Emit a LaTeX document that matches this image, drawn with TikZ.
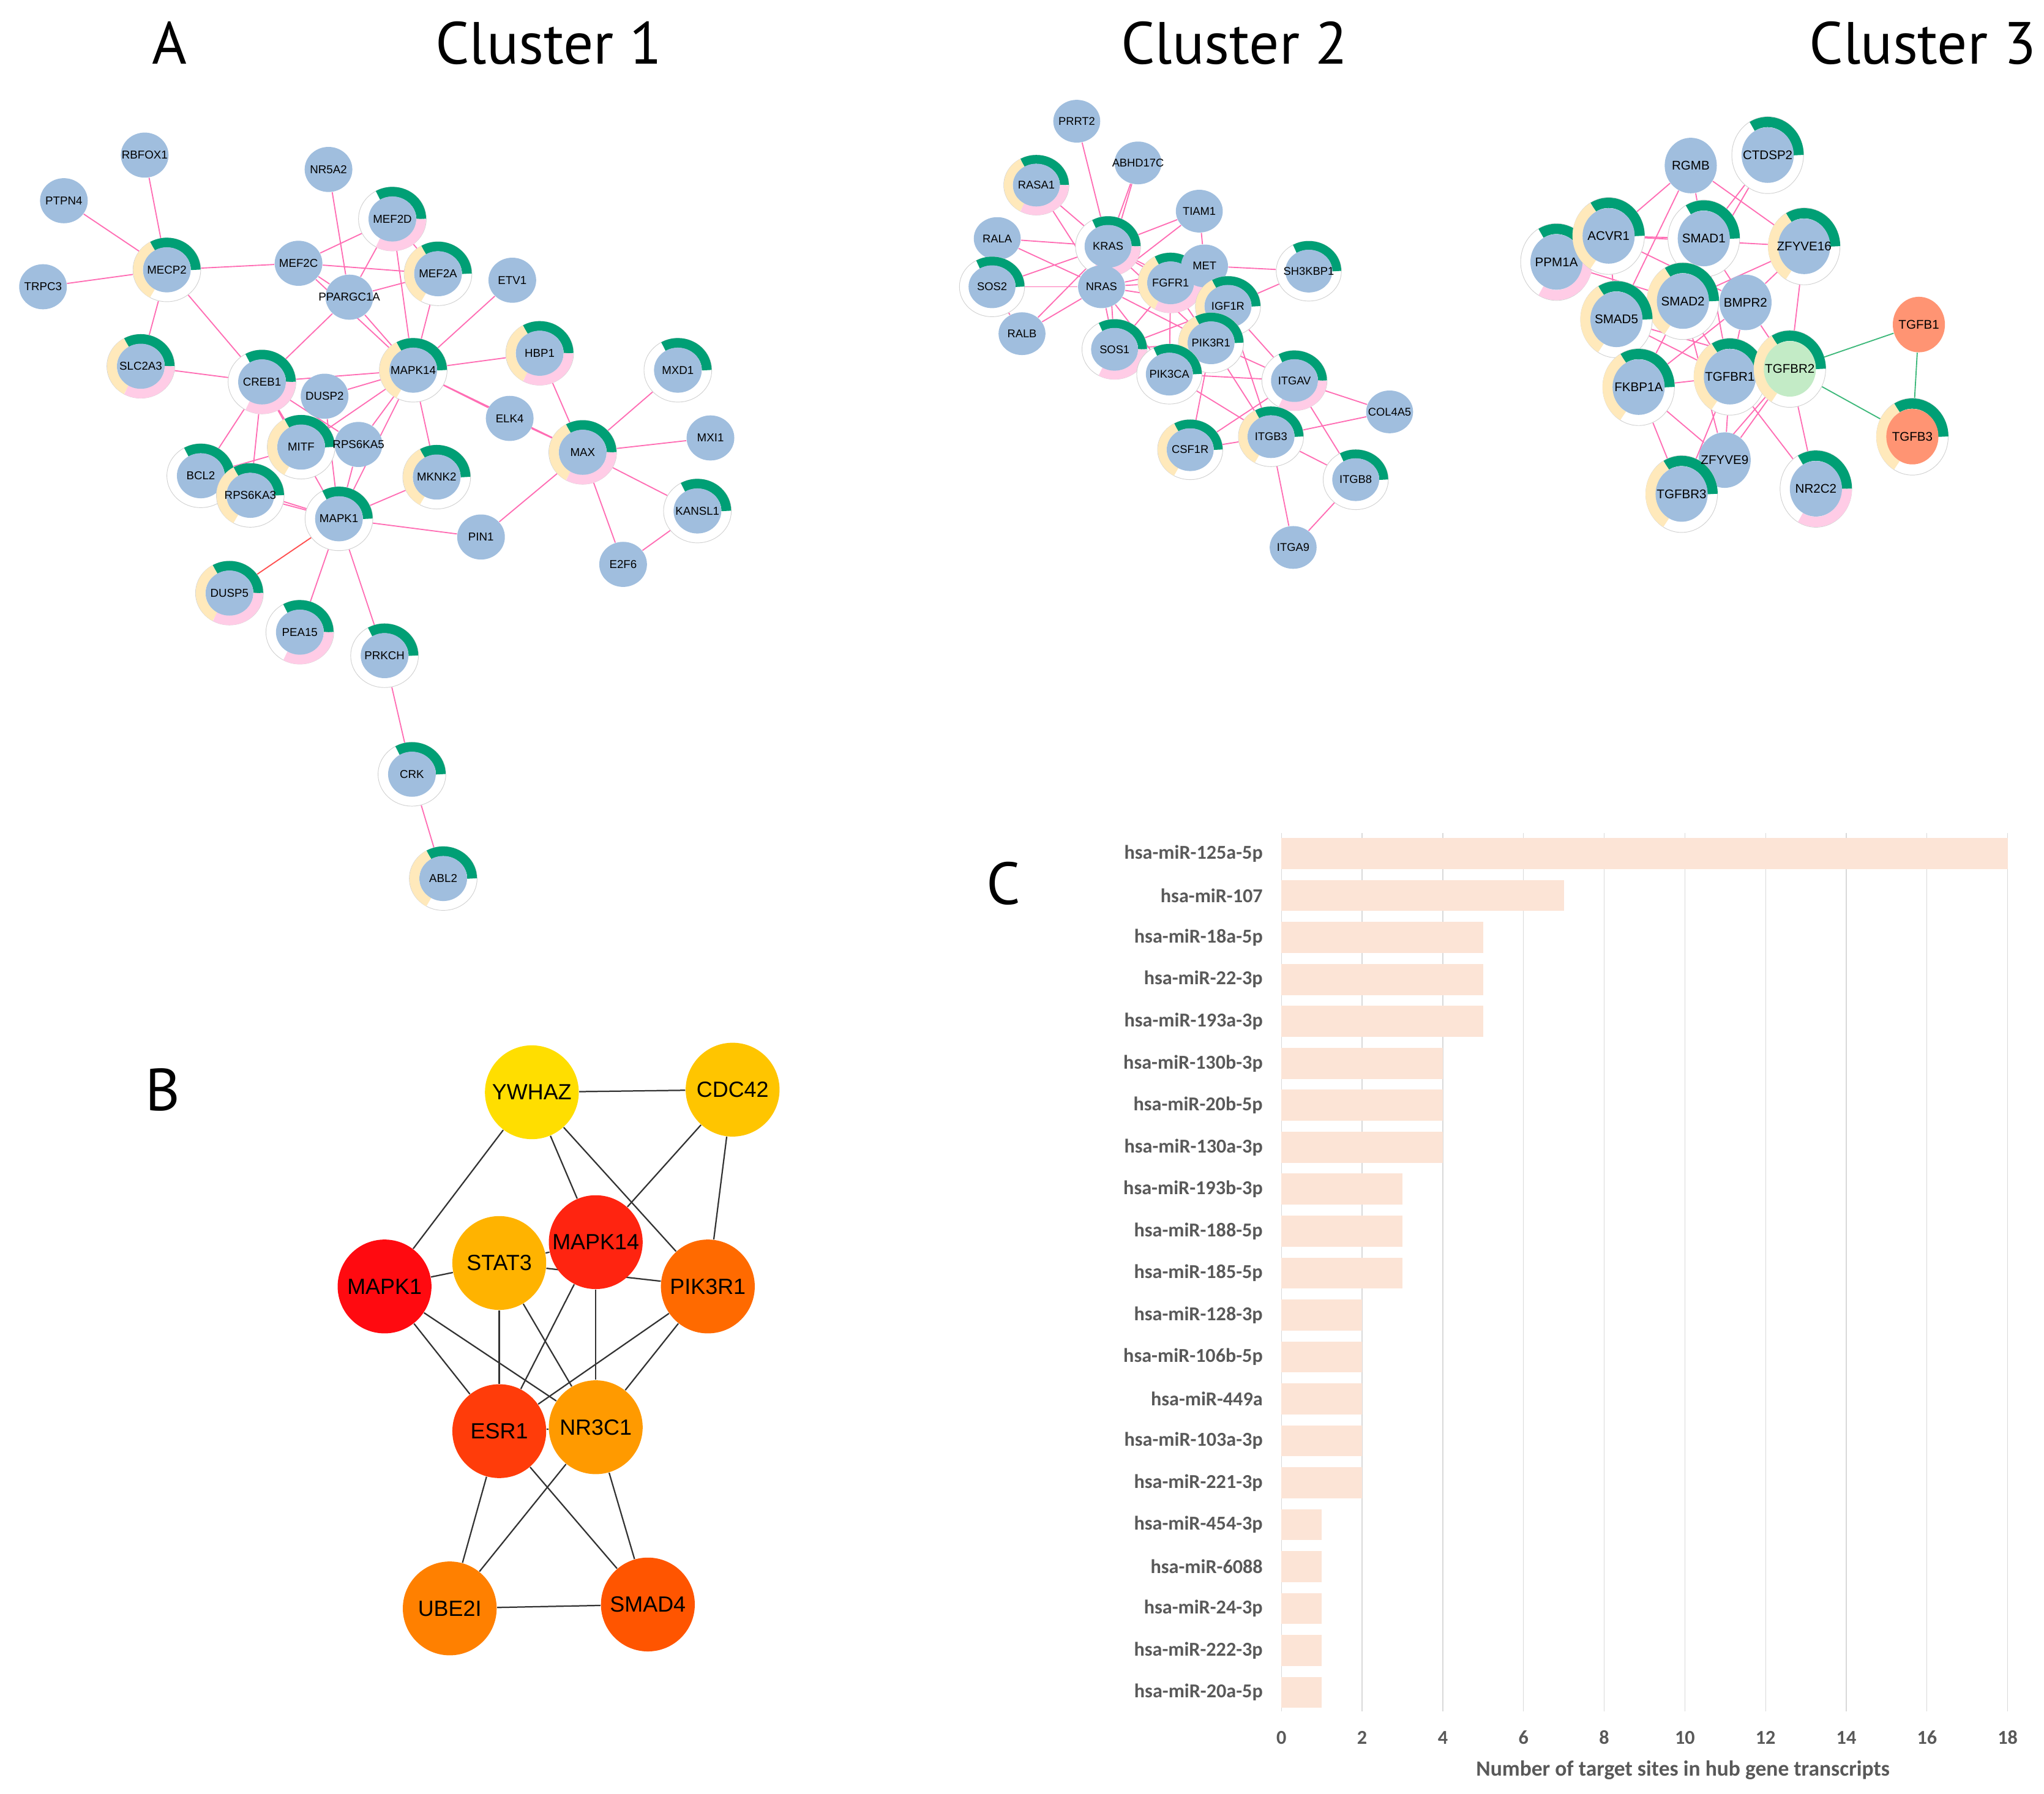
\documentclass[tikz,border=0pt]{standalone}
\usepackage{fontspec}
\setmainfont{Liberation Sans}
\newfontfamily\headfont{PT Sans}
\newfontfamily\chartfont{Carlito}
\usetikzlibrary{shapes.geometric}
\pgfdeclarelayer{background}
\pgfdeclarelayer{labels}
\pgfsetlayers{background,main,labels}

\newcommand{\setring}[5]{%
  \def\shellx{#1}\def\shelly{#2}\def\corex{#3}\def\corey{#4}%
  \pgfmathsetlengthmacro\bandx{(#1+#3)/2}%
  \pgfmathsetlengthmacro\bandy{(#2+#4)/2}%
  \pgfmathsetlengthmacro\bandw{(#1-#3+#2-#4)/2}%
  \def\genesize{\fontsize{#5}{#5}\selectfont}}

\newcommand{\ringgene}[7][genefill]{%
  \node[ringshell] (#2) at (#3) {};
  \ifnum#5=1 \draw[ringband, ringgreen] (#2.center) ++(\bandx,0pt) arc[start angle=0, end angle=120, x radius=\bandx, y radius=\bandy];\fi
  \ifnum#6=1 \draw[ringband, ringyellow] (#2.center) ++({\bandx*cos(120)},{\bandy*sin(120)}) arc[start angle=120, end angle=240, x radius=\bandx, y radius=\bandy];\fi
  \ifnum#7=1 \draw[ringband, ringpink] (#2.center) ++({\bandx*cos(240)},{\bandy*sin(240)}) arc[start angle=240, end angle=360, x radius=\bandx, y radius=\bandy];\fi
  \node[genecore, fill=#1] (#2-core) at (#2.center) {};
  \begin{pgfonlayer}{labels}\node[genetext] (#2-label) at (#2.center) {#4};\end{pgfonlayer}}

\newcommand{\plaingene}[4][genefill]{%
  \node[genecore, fill=#1] (#2) at (#3) {};
  \begin{pgfonlayer}{labels}\node[genetext] (#2-label) at (#2.center) {#4};\end{pgfonlayer}}

\begin{document}
\begin{tikzpicture}[x=0.02cm, y=-0.02cm,
  genecore/.style={ellipse, inner sep=0pt, minimum width=2*\corex, minimum height=2*\corey},
  ringshell/.style={ellipse, inner sep=0pt, fill=white, draw=black!18, line width=0.25pt, minimum width=2*\shellx, minimum height=2*\shelly},
  ringband/.style={line width=\bandw},
  genetext/.style={font=\genesize, inner sep=0pt},
  ppi/.style={ppipink, line width=0.5pt},
  hubgene/.style={circle, inner sep=0pt, minimum size=1.44cm, font=\fontsize{9.6}{10}\selectfont},
  hublink/.style={draw=black!80, line width=0.6pt},
  paneltitle/.style={font=\headfont\fontsize{26}{28}\selectfont, inner sep=0pt},
  gridline/.style={draw=gridgray, line width=0.35pt},
  barfill/.style={fill=barpeach},
  mirlabel/.style={font=\chartfont\bfseries\fontsize{8.6}{9}\selectfont, text=chartgray, anchor=east, inner sep=0pt},
  ticklabel/.style={font=\chartfont\bfseries\fontsize{8.6}{9}\selectfont, text=chartgray, inner sep=0pt},
  axistitle/.style={font=\chartfont\bfseries\fontsize{9.5}{10}\selectfont, text=chartgray, inner sep=0pt}]
\definecolor{genefill}{HTML}{A0BEDE}
\definecolor{ringgreen}{HTML}{009F75}
\definecolor{ringyellow}{HTML}{FFE9BB}
\definecolor{ringpink}{HTML}{FFCCE6}
\definecolor{ppipink}{HTML}{FF6EB4}
\definecolor{ppired}{HTML}{FF5050}
\definecolor{ppigreen}{HTML}{3DB87A}
\definecolor{tgfsalmon}{HTML}{FF9473}
\definecolor{tgfmint}{HTML}{C3EBC6}
\definecolor{hubywhaz}{HTML}{FFDE00}
\definecolor{hubcdc42}{HTML}{FFC500}
\definecolor{hubmapk1}{HTML}{FF0A10}
\definecolor{hubstat3}{HTML}{FFB300}
\definecolor{hubmapk14}{HTML}{FF2410}
\definecolor{hubpik3r1}{HTML}{FF6A00}
\definecolor{hubesr1}{HTML}{FF3C0A}
\definecolor{hubnr3c1}{HTML}{FF9A00}
\definecolor{hubube2i}{HTML}{FF8000}
\definecolor{hubsmad4}{HTML}{FF5500}
\definecolor{chartgray}{HTML}{595959}
\definecolor{gridgray}{HTML}{D9D9D9}
\definecolor{barpeach}{HTML}{FCE4D6}
\useasboundingbox (0,0) rectangle (1568,1376);

\node[paneltitle] (title-a) at (130,33) {A};
\node[paneltitle] (title-c1) at (421,33) {Cluster 1};
\node[paneltitle] (title-c2) at (947,33) {Cluster 2};
\node[paneltitle] (title-c3) at (1475,33) {Cluster 3};
\node[paneltitle] (title-b) at (125,836) {B};
\node[paneltitle] (title-c) at (770,678) {C};

% cluster 1
\setring{0.52cm}{0.49cm}{0.366cm}{0.346cm}{5}
\plaingene{rbfox1}{111,119}{RBFOX1}
\plaingene{ptpn4}{49,154}{PTPN4}
\plaingene{trpc3}{33,220}{TRPC3}
\plaingene{nr5a2}{252,130}{NR5A2}
\plaingene{mef2c}{229,202}{MEF2C}
\plaingene{ppargc1a}{268,228}{PPARGC1A}
\plaingene{etv1}{393,215}{ETV1}
\plaingene{dusp2}{249,304}{DUSP2}
\plaingene{elk4}{391,321}{ELK4}
\plaingene{rps6ka5}{275,341}{RPS6KA5}
\plaingene{mxi1}{545,336}{MXI1}
\plaingene{pin1}{369,412}{PIN1}
\plaingene{e2f6}{478,433}{E2F6}
\ringgene{mecp2}{128,207}{MECP2}{1}{1}{0}
\ringgene{mef2d}{301,168}{MEF2D}{1}{0}{1}
\ringgene{mef2a}{336,210}{MEF2A}{1}{1}{0}
\ringgene{slc2a3}{108,281}{SLC2A3}{1}{1}{1}
\ringgene{creb1}{201,293}{CREB1}{1}{0}{1}
\ringgene{mapk14}{317,284}{MAPK14}{1}{1}{0}
\ringgene{hbp1}{414,271}{HBP1}{1}{1}{1}
\ringgene{mxd1}{520,284}{MXD1}{1}{0}{0}
\ringgene{mitf}{231,343}{MITF}{1}{1}{0}
\ringgene{mknk2}{335,366}{MKNK2}{1}{1}{0}
\ringgene{max}{447,347}{MAX}{1}{1}{1}
\ringgene{bcl2}{154,365}{BCL2}{1}{0}{0}
\ringgene{rps6ka3}{192,380}{RPS6KA3}{1}{1}{0}
\ringgene{mapk1}{260,398}{MAPK1}{1}{0}{0}
\ringgene{kansl1}{535,392}{KANSL1}{1}{0}{0}
\ringgene{dusp5}{176,455}{DUSP5}{1}{1}{1}
\ringgene{pea15}{230,485}{PEA15}{1}{0}{1}
\ringgene{prkch}{295,503}{PRKCH}{1}{0}{0}
\ringgene{crk}{316,594}{CRK}{1}{0}{0}
\ringgene{abl2}{340,674}{ABL2}{1}{1}{0}

% cluster 2
\setring{0.50cm}{0.46cm}{0.36cm}{0.328cm}{4.9}
\plaingene{prrt2}{826,93}{PRRT2}
\plaingene{abhd17c}{873,125}{ABHD17C}
\plaingene{tiam1}{920,162}{TIAM1}
\plaingene{rala}{765,183}{RALA}
\ringgene{rasa1}{795,142}{RASA1}{1}{1}{1}
\ringgene{kras}{850,189}{KRAS}{1}{0}{1}
\plaingene{nras}{845,220}{NRAS}
\ringgene{sos2}{761,220}{SOS2}{1}{0}{0}
\plaingene{ralb}{784,256}{RALB}
\ringgene{fgfr1}{898,217}{FGFR1}{1}{1}{1}
\plaingene{met}{924,204}{MET}
\ringgene{sh3kbp1}{1004,208}{SH3KBP1}{1}{0}{0}
\ringgene{igf1r}{942,235}{IGF1R}{1}{1}{0}
\ringgene{sos1}{855,268}{SOS1}{1}{0}{1}
\ringgene{pik3r1}{929,263}{PIK3R1}{1}{1}{0}
\ringgene{pik3ca}{897,287}{PIK3CA}{1}{0}{0}
\ringgene{itgav}{993,292}{ITGAV}{1}{0}{1}
\ringgene{csf1r}{913,345}{CSF1R}{1}{1}{0}
\ringgene{itgb3}{975,335}{ITGB3}{1}{1}{0}
\plaingene{col4a5}{1066,316}{COL4A5}
\ringgene{itgb8}{1040,368}{ITGB8}{1}{0}{0}
\plaingene{itga9}{992,420}{ITGA9}

% cluster 3
\setring{0.55cm}{0.59cm}{0.40cm}{0.426cm}{5.5}
\ringgene{ppm1a}{1194,201}{PPM1A}{1}{0}{1}
\ringgene{acvr1}{1234,181}{ACVR1}{1}{1}{0}
\plaingene{rgmb}{1297,127}{RGMB}
\ringgene{ctdsp2}{1356,119}{CTDSP2}{1}{0}{0}
\ringgene{smad1}{1307,183}{SMAD1}{1}{0}{0}
\ringgene{zfyve16}{1384,189}{ZFYVE16}{1}{1}{0}
\ringgene{smad2}{1291,231}{SMAD2}{1}{1}{0}
\plaingene{bmpr2}{1339,232}{BMPR2}
\ringgene{smad5}{1240,245}{SMAD5}{1}{1}{0}
\ringgene{fkbp1a}{1257,297}{FKBP1A}{1}{1}{0}
\ringgene{tgfbr1}{1327,289}{TGFBR1}{1}{1}{0}
\ringgene[tgfmint]{tgfbr2}{1373,283}{TGFBR2}{1}{1}{0}
\plaingene{zfyve9}{1323,353}{ZFYVE9}
\ringgene{tgfbr3}{1290,379}{TGFBR3}{1}{1}{0}
\ringgene{nr2c2}{1393,375}{NR2C2}{1}{0}{1}
\plaingene[tgfsalmon]{tgfb1}{1472,249}{TGFB1}
\ringgene[tgfsalmon]{tgfb3}{1467,335}{TGFB3}{1}{1}{0}

% hub genes
\node[hubgene, fill=hubywhaz] (hub-ywhaz) at (408,838) {YWHAZ};
\node[hubgene, fill=hubcdc42] (hub-cdc42) at (562,836) {CDC42};
\node[hubgene, fill=hubmapk1] (hub-mapk1) at (295,987) {MAPK1};
\node[hubgene, fill=hubstat3] (hub-stat3) at (383,969) {STAT3};
\node[hubgene, fill=hubmapk14] (hub-mapk14) at (457,953) {MAPK14};
\node[hubgene, fill=hubpik3r1] (hub-pik3r1) at (543,987) {PIK3R1};
\node[hubgene, fill=hubesr1] (hub-esr1) at (383,1098) {ESR1};
\node[hubgene, fill=hubnr3c1] (hub-nr3c1) at (457,1095) {NR3C1};
\node[hubgene, fill=hubube2i] (hub-ube2i) at (345,1234) {UBE2I};
\node[hubgene, fill=hubsmad4] (hub-smad4) at (497,1231) {SMAD4};

\begin{pgfonlayer}{background}
\foreach \a/\b in {rbfox1/mecp2, ptpn4/mecp2, trpc3/mecp2, mecp2/mef2c, mecp2/slc2a3, mecp2/creb1,
  nr5a2/ppargc1a, mef2c/mef2d, mef2c/mef2a, mef2c/ppargc1a, mef2c/mapk14, mef2d/ppargc1a, mef2d/mapk14, mef2d/mef2a,
  ppargc1a/mef2a, ppargc1a/creb1, ppargc1a/mapk14, mef2a/mapk14, etv1/mapk14, mapk14/hbp1, creb1/mapk14, dusp2/mapk14,
  mapk14/elk4, mapk14/max, mapk14/mitf, mapk14/rps6ka5, mapk14/mapk1, mapk14/mknk2, slc2a3/creb1, creb1/bcl2, creb1/rps6ka3,
  creb1/mapk1, creb1/mitf, creb1/rps6ka5, mitf/bcl2, rps6ka5/mapk1, dusp2/mapk1, rps6ka3/mapk1, bcl2/mapk1, mknk2/mapk1,
  mapk1/pin1, mapk1/pea15, mapk1/prkch, prkch/crk, crk/abl2, hbp1/max, elk4/max, max/mxd1, max/mxi1, max/kansl1, max/e2f6,
  max/pin1, kansl1/e2f6}
  \draw[ppi] (\a) -- (\b);
\draw[ppi, ppired] (mapk1) -- (dusp5);
\foreach \a/\b in {prrt2/kras, abhd17c/kras, abhd17c/nras, rasa1/kras, rasa1/nras, tiam1/kras, tiam1/nras, tiam1/met,
  rala/kras, rala/nras, sos2/kras, sos2/nras, sos2/ralb, ralb/kras, ralb/nras, kras/fgfr1, kras/igf1r, kras/sos1, kras/pik3r1,
  nras/fgfr1, nras/met, nras/igf1r, nras/pik3r1, nras/pik3ca, nras/sos1, fgfr1/sos1, fgfr1/pik3ca, fgfr1/pik3r1, sos1/pik3r1,
  sos1/igf1r, met/sh3kbp1, igf1r/sh3kbp1, igf1r/itgav, igf1r/itgb3, pik3ca/itgav, pik3ca/itgb3, pik3r1/itgav, pik3r1/itgb3,
  pik3r1/csf1r, itgav/csf1r, csf1r/itgb3, itgav/itgb8, itgav/col4a5, itgb3/col4a5, itgb3/itgb8, itgb3/itga9, itgb8/itga9}
  \draw[ppi] (\a) -- (\b);
\foreach \a/\b in {rgmb/acvr1, rgmb/smad1, rgmb/smad5, rgmb/zfyve16, ctdsp2/smad1, ctdsp2/smad2, acvr1/smad1, acvr1/zfyve16,
  acvr1/bmpr2, acvr1/smad5, ppm1a/smad2, smad1/bmpr2, smad1/tgfbr1, zfyve16/smad2, zfyve16/bmpr2, zfyve16/tgfbr2,
  smad2/tgfbr1, smad2/zfyve9, smad2/fkbp1a, smad5/tgfbr1, smad5/tgfbr2, bmpr2/fkbp1a, bmpr2/tgfbr1, bmpr2/tgfbr2,
  fkbp1a/tgfbr1, fkbp1a/tgfbr3, fkbp1a/zfyve9, tgfbr1/zfyve9, tgfbr1/tgfbr3, tgfbr2/zfyve9, tgfbr2/tgfbr3,
  tgfbr1/nr2c2, tgfbr2/nr2c2}
  \draw[ppi] (\a) -- (\b);
\foreach \a/\b in {tgfbr2/tgfb1, tgfbr2/tgfb3, tgfb1/tgfb3}
  \draw[ppi, ppigreen] (\a) -- (\b);
\foreach \a/\b in {ywhaz/cdc42, ywhaz/mapk1, ywhaz/mapk14, ywhaz/pik3r1, cdc42/mapk14, cdc42/pik3r1, mapk1/stat3,
  mapk1/esr1, mapk1/nr3c1, stat3/mapk14, stat3/pik3r1, stat3/esr1, stat3/nr3c1, mapk14/esr1, mapk14/nr3c1,
  pik3r1/esr1, pik3r1/nr3c1, esr1/nr3c1, esr1/ube2i, esr1/smad4, nr3c1/ube2i, nr3c1/smad4, ube2i/smad4}
  \draw[hublink] (hub-\a) -- (hub-\b);
\end{pgfonlayer}

% target sites chart
\foreach \t in {0,2,...,18} {
  \draw[gridline] ({983+30.95*\t},639) -- ({983+30.95*\t},1313);
  \node[ticklabel] (tick\t) at ({983+30.95*\t},1333) {\t};
}
\foreach \mir/\val [count=\i from 0] in {hsa-miR-125a-5p/18, hsa-miR-107/7, hsa-miR-18a-5p/5, hsa-miR-22-3p/5,
  hsa-miR-193a-3p/5, hsa-miR-130b-3p/4, hsa-miR-20b-5p/4, hsa-miR-130a-3p/4, hsa-miR-193b-3p/3, hsa-miR-188-5p/3,
  hsa-miR-185-5p/3, hsa-miR-128-3p/2, hsa-miR-106b-5p/2, hsa-miR-449a/2, hsa-miR-103a-3p/2, hsa-miR-221-3p/2,
  hsa-miR-454-3p/1, hsa-miR-6088/1, hsa-miR-24-3p/1, hsa-miR-222-3p/1, hsa-miR-20a-5p/1} {
  \fill[barfill] (983,{643+32.18*\i}) rectangle ({983+30.95*\val},{666.8+32.18*\i});
  \node[mirlabel] (mir\i) at (969,{654.9+32.18*\i}) {\mir};
}
\node[axistitle] (xtitle) at (1291,1358) {Number of target sites in hub gene transcripts};
\end{tikzpicture}
\end{document}
